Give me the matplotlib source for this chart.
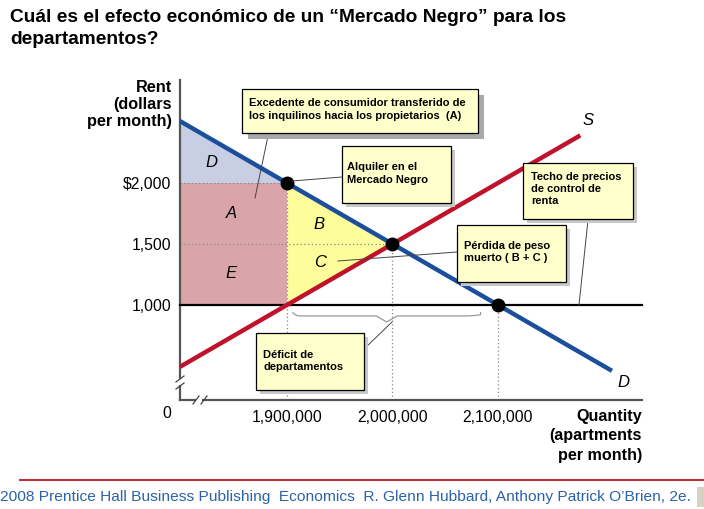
import matplotlib
matplotlib.use("Agg")
import matplotlib.pyplot as plt
from matplotlib.patches import Rectangle, Polygon, PathPatch
from matplotlib.path import Path

plt.rcParams['font.family'] = ['Liberation Sans', 'DejaVu Sans']

# datos del gráfico
cantidad_ticks = [1900000, 2000000, 2100000]
cantidad_labels = ["1,900,000", "2,000,000", "2,100,000"]
renta_ticks = [1000, 1500, 2000]
renta_labels = ["1,000", "1,500", "$2,000"]

demanda_q = [1798600, 2208000]
demanda_p = [2507, 460]
oferta_q = [1798600, 2178000]
oferta_p = [493, 2390]
techo = 1000
techo_q = [1798600, 2236500]

q_negro, p_negro = 1900000, 2000
q_eq, p_eq = 2000000, 1500
q_dem, p_dem = 2100000, 1000

# letras de las áreas
areas = ["D", "A", "B", "C", "E"]
areas_q = [1828000, 1847000, 1930000, 1931000, 1847000]
areas_p = [2164, 1746, 1656, 1344, 1262]

xmin, xmax = 1798600, 2236500
ymin, ymax = 221, 2844

W, H = 704, 509
fig = plt.figure(figsize=(W / 100, H / 100), dpi=100)
fig.patch.set_facecolor("white")

# ejes principales (pixeles 180..642 x 80..400)
ax = fig.add_axes([180 / W, (H - 400) / H, 462 / W, 320 / H])
ax.set_xlim(xmin, xmax)
ax.set_ylim(ymin, ymax)
for s in ["top", "right"]:
    ax.spines[s].set_visible(False)
for s in ["left", "bottom"]:
    ax.spines[s].set_color("#555555")
    ax.spines[s].set_linewidth(1.6)
ax.set_xticks(cantidad_ticks)
ax.set_xticklabels(cantidad_labels, fontsize=11.3)
ax.set_yticks(renta_ticks)
ax.set_yticklabels(renta_labels, fontsize=11.3)
ax.tick_params(axis="y", length=0, pad=6)
ax.tick_params(axis="x", length=0, pad=7)

# áreas sombreadas
ax.add_patch(Polygon([(xmin, demanda_p[0]), (q_negro, p_negro), (xmin, p_negro)],
                     closed=True, facecolor="#c8cfe4", edgecolor="none", zorder=1))
ax.add_patch(Rectangle((xmin, techo), q_negro - xmin, p_negro - techo,
                       facecolor="#daa5a9", edgecolor="none", zorder=1))
ax.add_patch(Polygon([(q_negro, p_negro), (q_eq, p_eq), (q_negro, techo)],
                     closed=True, facecolor="#fdfd9b", edgecolor="none", zorder=1))

# líneas punteadas
dot = dict(color="#888888", lw=0.9, ls=(0, (1, 2)), zorder=2)
ax.plot([xmin, q_negro], [p_negro, p_negro], **dot)
ax.plot([xmin, q_eq], [p_eq, p_eq], **dot)
ax.plot([q_negro, q_negro], [ymin, p_negro], **dot)
ax.plot([q_eq, q_eq], [ymin, p_eq], **dot)
ax.plot([q_dem, q_dem], [ymin, p_dem], **dot)

# techo de precios
ax.plot(techo_q, [techo, techo], color="black", lw=1.6, zorder=3, clip_on=False)

# curvas de oferta y demanda
ax.plot(oferta_q, oferta_p, color="#c0122b", lw=3.2, zorder=4, solid_capstyle="butt")
ax.plot(demanda_q, demanda_p, color="#1b4f9e", lw=3.2, zorder=5, solid_capstyle="butt")

# puntos
ax.plot([q_negro, q_eq, q_dem], [p_negro, p_eq, p_dem], "o", color="black",
        markersize=9, zorder=6)

# letras
for t, q, p in zip(areas, areas_q, areas_p):
    ax.text(q, p, t, fontsize=12, style="italic", ha="center", va="center", zorder=7)
ax.text(2185000, 2508, "S", fontsize=12, style="italic", ha="center", va="center")
ax.text(2218500, 361, "D", fontsize=12, style="italic", ha="center", va="center")

# llave (déficit)
b_y0, b_y1, b_y2 = 943, 910, 861
q_a, q_b = 1905500, 2083500
qm = (q_a + q_b) / 2
verts = [(q_a, b_y0), (q_a, b_y1 + 10), (q_a + 6000, b_y1), (q_a + 15000, b_y1),
         (qm - 10000, b_y1), (qm - 10000, b_y1), (qm, b_y2),
         (qm, b_y2), (qm + 10000, b_y1), (qm + 10000, b_y1),
         (q_b - 15000, b_y1), (q_b - 6000, b_y1), (q_b, b_y1 + 10), (q_b, b_y0)]
codes = [Path.MOVETO, Path.CURVE3, Path.CURVE3, Path.LINETO,
         Path.LINETO, Path.CURVE3, Path.CURVE3,
         Path.MOVETO, Path.CURVE3, Path.CURVE3,
         Path.LINETO, Path.CURVE3, Path.CURVE3, Path.LINETO]
ax.add_patch(PathPatch(Path(verts, codes), facecolor="none", edgecolor="#999999",
                       lw=0.9, zorder=3))

# capa superior en pixeles
ov = fig.add_axes([0, 0, 1, 1], zorder=10)
ov.set_xlim(0, W)
ov.set_ylim(H, 0)
ov.axis("off")
ov.patch.set_alpha(0)

# cortes de los ejes
ov.add_patch(Rectangle((176, 379), 8, 6, facecolor="white", edgecolor="none"))
ov.plot([176, 184], [382, 376], color="#444444", lw=0.9)
ov.plot([176, 184], [389, 383], color="#444444", lw=0.9)
ov.add_patch(Rectangle((196, 396), 6, 8, facecolor="white", edgecolor="none"))
ov.plot([193, 199], [404, 396], color="#444444", lw=0.9)
ov.plot([201, 207], [404, 396], color="#444444", lw=0.9)

# título
ov.text(10, 9, "Cuál es el efecto económico de un “Mercado Negro” para los\ndepartamentos?",
        fontsize=13.8, fontweight="bold", va="top", ha="left", linespacing=1.42)

# etiquetas de ejes
ov.text(172, 80, "Rent\n(dollars\nper month)", fontsize=11.7, fontweight="bold",
        ha="right", va="top", linespacing=1.17)
ov.text(642, 409, "Quantity\n(apartments\nper month)", fontsize=11.6, fontweight="bold",
        ha="right", va="top", linespacing=1.36)
ov.text(167, 414, "0", fontsize=11.3, ha="center", va="center")


def caja(x0, y0, x1, y1, texto, tx, ty, sombra="#c8c8c8", off=4, ls=1.25):
    ov.add_patch(Rectangle((x0 + off, y0 + off), x1 - x0, y1 - y0,
                           facecolor=sombra, edgecolor="none", zorder=11))
    ov.add_patch(Rectangle((x0, y0), x1 - x0, y1 - y0, facecolor="#ffffcc",
                           edgecolor="black", lw=0.9, zorder=12))
    ov.text(tx, ty, texto, fontsize=8.0, fontweight="bold", ha="left", va="top",
            linespacing=ls, zorder=13)


lead = dict(color="#444444", lw=0.7, zorder=9)

# líneas guía
ov.plot([268, 255], [136, 198], **lead)
ov.plot([588, 579], [220, 305], **lead)
ov.plot([457, 338], [252, 261], **lead)
ov.plot([364, 392], [349, 322], **lead)
ov.plot([342, 292], [177, 181], **lead)

caja(242, 89, 478, 133,
     "Excedente de consumidor transferido de\nlos inquilinos hacia los propietarios  (A)",
     249, 98, sombra="#a8a8a8", off=6, ls=1.4)
caja(342, 146, 451, 203, "Alquiler en el\nMercado Negro", 347, 162, ls=1.35)
caja(523, 163, 633, 219, "Techo de precios\nde control de\nrenta", 531, 172)
caja(457, 225, 566, 282, "Pérdida de peso\nmuerto ( B + C )", 464, 241)
caja(256, 333, 364, 390, "Déficit de\ndepartamentos", 263, 350)

# pie
ov.plot([20, 704], [480, 480], color="#c4303a", lw=1.5)
ov.text(0, 497, "2008 Prentice Hall Business Publishing  Economics  R. Glenn Hubbard, "
        "Anthony Patrick O’Brien, 2e.", fontsize=11.15, color="#2a63a8",
        ha="left", va="center")
ov.add_patch(Rectangle((697, 487), 8, 20, facecolor="#d6d2c4", edgecolor="none"))

fig.savefig("out.png", dpi=100)
